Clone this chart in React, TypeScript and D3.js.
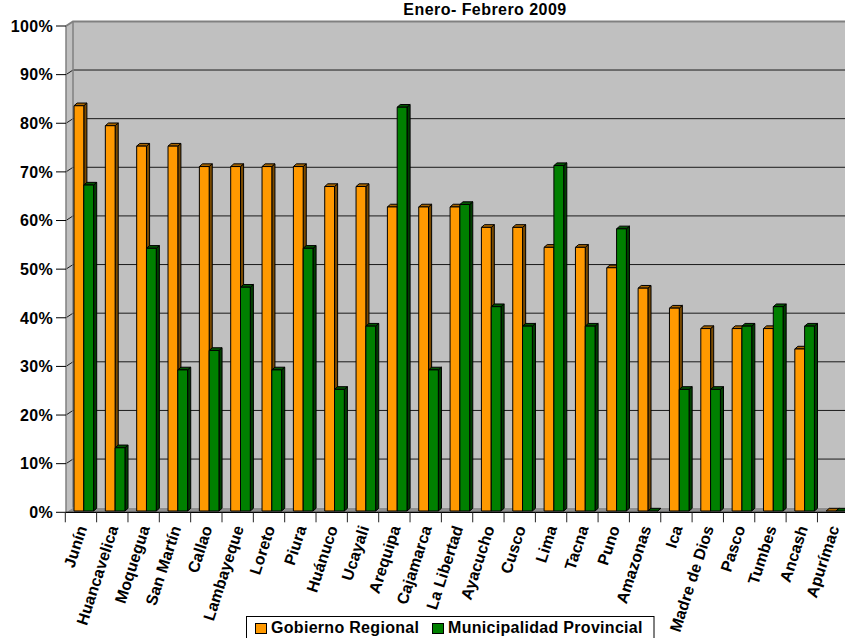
import React from "react";
import * as d3 from "d3";

const title = "Enero- Febrero 2009";
const categories = ["Junín", "Huancavelica", "Moquegua", "San Martín", "Callao", "Lambayeque", "Loreto", "Piura", "Huánuco", "Ucayali", "Arequipa", "Cajamarca", "La Libertad", "Ayacucho", "Cusco", "Lima", "Tacna", "Puno", "Amazonas", "Ica", "Madre de Dios", "Pasco", "Tumbes", "Ancash", "Apurímac"];
const seriesNames = ["Gobierno Regional", "Municipalidad Provincial"];
const gobiernoRegional = [83.3, 79.2, 75, 75, 70.8, 70.8, 70.8, 70.8, 66.7, 66.7, 62.5, 62.5, 62.5, 58.3, 58.3, 54.2, 54.2, 50, 45.8, 41.7, 37.5, 37.5, 37.5, 33.3, 0];
const municipalidadProvincial = [67, 13, 54, 29, 33, 46, 29, 54, 25, 38, 83, 29, 63, 42, 38, 71, 38, 58, 0, 25, 25, 38, 42, 38, 0];
const yTicks = [0, 10, 20, 30, 40, 50, 60, 70, 80, 90, 100];

const FONT = "'Liberation Sans', Arial, sans-serif";
const colors = {
  front: ["#FF9900", "#008000"],
  side: ["#7A4A00", "#003F00"],
  top: ["#A86500", "#005500"],
};

export default function App() {
  const W = 845, H = 638;
  const left = 65.3, band = 31.34;
  const depthX = 7, depthY = 4.6;
  const x = d3.scaleBand<string>().domain(categories).range([left, left + band * categories.length]).padding(0);
  const xs = d3.scaleBand<string>().domain(seriesNames).range([8.7, 8.7 + 19.6]).padding(0);
  const yFront = d3.scaleLinear().domain([0, 100]).range([512.3, 26]);
  const yBack = (v: number) => yFront(v) - depthY;
  const yBar = d3.scaleLinear().domain([0, 100]).range([511, 24.5]);
  const bx = 3.1, by = 2.7;
  const values = [gobiernoRegional, municipalidadProvincial];
  const wallL = 66, wallR = W + 10;

  const bars: React.ReactNode[] = [];
  categories.forEach((c, i) => {
    seriesNames.forEach((s, k) => {
      const v = values[k][i];
      const x0 = (x(c) as number) + (xs(s) as number);
      const w = xs.bandwidth();
      const yt = yBar(v), yb = yBar(0);
      bars.push(
        <g key={c + s} stroke="#000" strokeWidth={1} strokeLinejoin="round">
          <path d={`M${x0 + w},${yb} L${x0 + w + bx},${yb - by} L${x0 + w + bx},${yt - by} L${x0 + w},${yt} Z`} fill={colors.side[k]} />
          <path d={`M${x0},${yt} L${x0 + bx},${yt - by} L${x0 + w + bx},${yt - by} L${x0 + w},${yt} Z`} fill={colors.top[k]} />
          <rect x={x0} y={yt} width={w} height={yb - yt} fill={colors.front[k]} />
        </g>
      );
    });
  });

  return (
    <div style={{ position: "fixed", left: 0, top: 0 }}>
      <svg width={W} height={H} style={{ display: "block", background: "#fff" }}>
        {/* back wall */}
        <rect x={wallL + depthX} y={yBack(100)} width={wallR - wallL - depthX} height={yBack(0) - yBack(100)} fill="#C0C0C0" />
        {/* left wall */}
        <path d={`M${wallL},${yFront(100)} L${wallL + depthX},${yBack(100)} L${wallL + depthX},${yBack(0)} L${wallL},${yFront(0)} Z`} fill="#C0C0C0" />
        {/* floor */}
        <path d={`M${wallL},${yFront(0)} L${wallL + depthX},${yBack(0)} L${wallR},${yBack(0)} L${wallR},${yFront(0)} Z`} fill="#8E8E8E" />
        {/* gridlines */}
        {yTicks.slice(1, -1).map((t) => (
          <g key={t} stroke="#1a1a1a" strokeWidth={1}>
            <line x1={wallL + depthX} x2={wallR} y1={yBack(t)} y2={yBack(t)} />
            <line x1={wallL} x2={wallL + depthX} y1={yFront(t)} y2={yBack(t)} />
          </g>
        ))}
        {/* wall edges */}
        <path d={`M${wallL},${yFront(100)} L${wallL + depthX},${yBack(100)} L${wallR},${yBack(100)}`} fill="none" stroke="#808080" strokeWidth={2} />
        <line x1={wallL + depthX} x2={wallL + depthX} y1={yBack(100)} y2={yBack(0)} stroke="#808080" strokeWidth={1.5} />
        {bars}
        {/* axes */}
        <line x1={wallL} x2={wallL} y1={yFront(100)} y2={yFront(0)} stroke="#808080" strokeWidth={1.5} />
        <line x1={wallL} x2={wallR} y1={yFront(0)} y2={yFront(0)} stroke="#000" strokeWidth={1.2} />
        {yTicks.map((t) => (
          <g key={t}>
            <line x1={56} x2={wallL} y1={yFront(t)} y2={yFront(t)} stroke="#000" strokeWidth={1} />
            <text x={53} y={yFront(t)} dy="0.36em" textAnchor="end" fontFamily={FONT} fontWeight="bold" fontSize={16} letterSpacing={0.3} fill="#000">{t}%</text>
          </g>
        ))}
        {d3.range(categories.length + 1).map((i) => {
          const xt = left + i * band;
          return <line key={i} x1={xt} x2={xt} y1={yFront(0)} y2={yFront(0) + 10} stroke="#222" strokeWidth={1} />;
        })}
        {categories.map((c) => {
          const cx = (x(c) as number) + band / 2;
          return (
            <text key={c} transform={`translate(${cx + 1},${526}) rotate(-72)`} dy="0.35em" textAnchor="end" fontFamily={FONT} fontWeight="bold" fontSize={16} letterSpacing={0.1} fill="#000">{c}</text>
          );
        })}
        {/* title */}
        <text x={485} y={15} textAnchor="middle" fontFamily={FONT} fontWeight="bold" fontSize={16} letterSpacing={0.45} fill="#000">{title}</text>
        {/* legend */}
        <rect x={246.5} y={616.5} width={407.5} height={30} fill="#fff" stroke="#000" strokeWidth={1} />
        {seriesNames.map((s, k) => {
          const lx = k === 0 ? 255 : 432;
          return (
            <g key={s}>
              <rect x={lx + 0.5} y={623.5} width={11} height={10} fill={colors.front[k]} stroke="#000" strokeWidth={1} />
              <text x={lx + 16} y={633} fontFamily={FONT} fontWeight="bold" fontSize={16} letterSpacing={0.3} fill="#000">{s}</text>
            </g>
          );
        })}
      </svg>
    </div>
  );
}
